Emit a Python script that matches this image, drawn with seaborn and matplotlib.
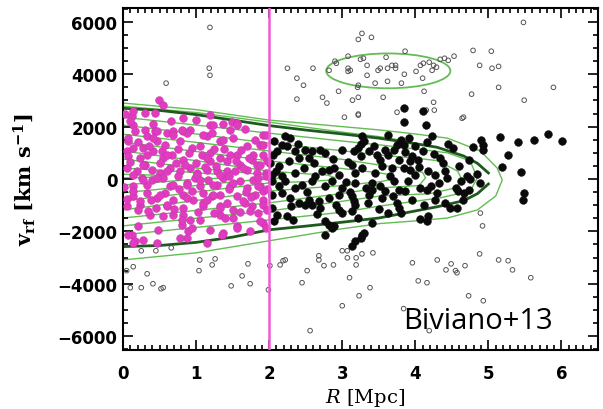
import matplotlib
matplotlib.use("Agg")
import matplotlib.pyplot as plt
from matplotlib.patches import Ellipse
from matplotlib.ticker import MultipleLocator
import seaborn as sns

# ---------------- data ----------------
# members inside R < 2 Mpc (magenta)
mag_R = [0.49,0.55,0.12,0.30,0.44,0.66,0.82,1.00,1.19,1.37,1.49,1.56,1.67,0.14,0.16,0.07,0.30,0.33,0.41,0.44,
         0.47,0.60,0.68,0.82,0.92,0.78,0.95,1.15,1.22,1.33,1.37,1.47,1.51,1.70,1.88,1.92,0.05,0.14,0.23,0.33,
         0.41,0.53,0.55,0.67,0.82,1.05,1.08,1.19,1.19,1.33,1.42,1.56,1.60,1.77,1.84,1.92,0.05,0.19,0.30,0.40,
         0.51,0.64,0.78,0.92,1.01,1.15,1.29,1.42,1.53,1.70,1.84,1.95,
         0.14,0.26,0.40,0.55,0.64,0.75,0.88,0.99,1.05,1.16,1.29,1.37,1.47,1.60,1.70,1.78,1.88,1.95,0.14,0.33,
         0.47,0.58,0.68,0.82,0.96,1.10,1.22,1.33,1.42,1.56,1.67,1.81,1.92,0.05,0.23,0.60,0.82,1.10,1.33,1.51,
         1.77,0.37,0.55,0.82,0.92,1.05,1.33,1.40,0.21,0.48,0.81,0.89,1.19,1.37,1.56,1.92,0.12,0.16,0.27,0.47,
         0.88,1.15,1.95,
         0.07,0.07,0.14,0.27,0.33,0.47,0.60,0.68,0.85,0.88,1.01,1.15,1.23,1.33,1.47,1.51,1.64,1.78,1.85,1.92,
         1.95,1.88,1.10,1.23,1.56,0.41,0.68,0.88,0.27,0.60,0.47,0.81,0.14,1.19,
         0.14,0.23,0.34,0.51,0.60,0.68,0.81,0.88,1.10,1.23,1.33,1.51,1.64,1.74,1.92,1.92,1.88,1.36,1.56,1.74,
         0.07,0.95,0.78,0.14,
         0.10,0.20,0.36,0.50,0.58,0.72,0.75,0.90,1.00,1.05,1.12,1.25,1.27,1.38,1.45,1.55,1.62,1.68,1.72,1.80,
         1.85,1.97,1.97,0.02,0.05,0.09,0.03,0.20,0.28,0.38,0.45,0.70,0.76,0.95,1.02,1.15,1.25,1.45,1.60,1.75,
         1.85,1.97]
mag_v = [3010,2820,2400,2510,2510,2210,2320,2250,2060,2100,2170,2130,1910,2060,1830,1450,1870,1640,2100,1830,
         1450,1750,1830,1830,1870,1450,1180,1640,1750,1450,1490,1870,1560,1260,1300,1680,1070,1180,800,910,
         1070,1070,800,910,720,1260,910,990,690,800,690,910,530,720,530,910,420,300,530,340,
         230,420,300,420,230,340,300,300,300,340,230,230,
         -270,40,-40,40,-270,110,-150,40,-270,-40,-230,40,-270,-80,-340,-40,-270,110,-650,-530,
         -720,-530,-800,-610,-800,-530,-650,-610,-910,-650,-910,-610,-800,-1030,-990,-1030,-1100,-1030,-1030,-1180,
         -1030,-1370,-1410,-1370,-1560,-1560,-1370,-1490,-1790,-1940,-1750,-1980,-1940,-2060,-1790,-1680,-2130,-2360,-2320,-2440,
         -2250,-2440,-1870,
         1560,870,150,530,-230,40,300,-230,530,-230,150,800,-230,150,910,-150,420,910,40,1300,
         1680,530,1680,2060,2060,1560,1680,1750,1180,910,1830,1870,2590,2440,
         -460,-840,-1220,-610,-990,-1370,-1560,-720,-910,-610,-1100,-1490,-840,-1220,-460,-990,-1600,-2130,-1870,-1980,
         -2130,-1870,-2250,-2440,
         650,1400,1250,600,1300,600,1150,1000,600,-50,450,1150,500,1150,100,700,1100,-500,800,1500,
         -250,-400,700,-300,-750,2200,2500,-1200,-50,-800,-1100,-1150,-400,-450,-1250,-800,-1300,-400,-1250,-700,
         -1300,-1200]

# members beyond R = 2 Mpc (black)
blk_R = [3.62,3.27,2.21,2.29,2.07,2.18,2.11,2.36,2.49,2.59,2.70,2.41,2.62,2.77,3.00,3.16,3.21,3.25,3.37,3.44,
         3.52,3.62,3.71,2.01,2.14,2.27,2.04,2.18,2.36,2.48,2.63,2.82,2.89,2.96,3.14,3.18,3.27,3.45,3.55,3.68,3.78,
         2.04,2.14,2.22,2.36,2.45,2.59,2.77,2.86,3.00,3.18,3.32,3.41,3.51,3.59,3.71,2.04,2.18,2.29,2.41,2.55,
         2.59,2.68,2.82,2.96,3.14,3.16,3.37,3.41,3.55,2.04,2.11,2.07,2.25,2.32,2.49,2.70,2.96,3.00,3.14,2.77,
         2.82,3.18,3.41,2.77,2.86,2.89,3.27,3.25,3.30,3.18,3.14,
         3.85,4.11,3.85,4.15,4.23,3.92,4.16,3.75,3.84,4.51,4.79,4.90,4.93,4.92,5.16,5.41,5.62,5.27,5.19,5.44,
         5.49,5.48,3.86,3.96,4.04,3.93,4.10,4.34,4.38,4.73,3.84,3.93,4.00,4.18,4.27,4.41,4.44,4.71,4.75,4.62,
         3.90,4.32,4.07,4.16,4.21,3.77,3.86,4.55,4.59,4.66,4.74,4.27,4.48,4.57,4.07,4.18,4.16,3.75,3.77,
         5.82,6.01,3.25,
         2.05,2.10,2.25,2.30,2.40,2.52,2.55,2.65,2.72,2.88,2.92,3.05,3.08,3.10,3.22,3.30,3.35,3.48,3.50,3.58,
         3.62,3.65,3.70,3.80,3.80,3.95,4.00,4.05,4.12,4.25,4.30,4.40,4.45,4.60,4.65,4.85,4.88]
blk_v = [1680,1640,1640,1560,1450,1300,1070,1070,1110,1070,1110,800,610,990,1110,1070,1180,880,1070,1260,
         720,910,1110,610,500,690,150,110,230,420,110,340,420,150,530,230,420,230,500,420,720,
         -80,-270,-80,-340,-230,-80,-270,-80,-340,-150,-340,-150,-270,-460,-80,-610,-530,-720,-910,-800,
         -990,-840,-720,-610,-650,-840,-610,-420,-720,-1100,-1370,-1600,-1410,-1560,-990,-1100,-1180,-1300,-1220,-1600,
         -1750,-990,-1680,-2130,-1870,-1790,-2130,-2250,-2060,-2360,-2550,
         2700,2590,2170,2060,1640,1560,1410,1300,1300,1180,1220,1490,1300,1110,1600,1410,1490,910,460,270,
         -530,-800,1030,880,720,690,1070,800,610,720,420,340,150,300,150,300,40,110,0,-80,
         -80,-150,-340,-420,-270,-420,-460,-340,-460,-530,-420,-800,-1100,-1100,-1520,-1410,-1600,-910,-1100,
         1710,1450,1340,
         900,300,1250,-1050,1350,-500,800,-1350,300,750,-1000,-100,650,-500,-1500,1450,-900,900,-1150,1100,
         -1300,100,-650,1500,-1300,-800,1250,450,-1000,950,-550,-900,1350,500,-800,200,-150]

# interlopers (open circles)
int_R = [1.19,1.18,1.19,0.59,2.25,2.38,2.38,
         5.48,3.27,3.22,3.40,3.86,4.79,5.04,4.53,3.08,3.25,3.29,3.60,4.34,4.40,4.45,2.92,2.90,2.60,2.82,3.08,3.11,
         3.08,3.34,3.49,3.52,3.62,3.68,3.73,3.73,3.85,4.01,4.07,4.11,4.19,4.25,4.29,4.23,4.88,5.05,5.14,3.34,4.10,
         3.45,3.62,3.81,3.22,3.21,2.47,2.95,4.12,5.14,5.89,4.77,5.49,2.73,2.79,3.14,3.22,3.56,4.25,3.22,3.75,4.26,
         3.03,4.66,3.22,4.64,4.15,
         4.89,4.92,0.25,0.45,0.66,0.05,0.14,0.33,0.10,0.25,0.41,0.52,0.55,1.05,1.04,1.26,1.22,1.71,1.63,1.48,
         1.74,1.99,2.01,2.15,2.19,2.22,2.52,2.45,2.56,2.68,2.68,2.75,2.88,3.00,3.07,3.07,3.19,3.27,3.19,3.42,
         3.10,3.38,3.23,3.00,3.96,4.04,4.16,4.30,4.42,4.49,4.55,4.57,4.68,4.88,5.14,5.27,5.33,5.58,4.73,4.93,
         4.19,3.84]
int_v = [5790,4230,3960,3660,4230,3850,3050,
         5980,5560,5330,5410,4880,4910,4880,4690,4690,4570,4610,4650,4570,4610,4530,4420,4500,4230,4150,4230,4150,
         4110,4340,4150,4230,4230,4340,4340,4230,4000,4110,4340,4420,4460,4340,4270,4150,4340,4230,4300,3960,3850,
         3660,3730,3660,3580,3500,3580,3350,3350,3500,3500,3240,3010,3120,2900,3010,3120,3120,2930,2480,2550,2630,
         2360,2360,2440,2320,2630,
         -1300,-1790,-2740,-2740,-2630,-3500,-3350,-3620,-4150,-4150,-4000,-4190,-4150,-3090,-3500,-3050,-3280,-3240,-3700,-4080,
         -4000,-4230,-3310,-3280,-3120,-3090,-3500,-3960,-5790,-2930,-3090,-3310,-3280,-2740,-2740,-3010,-3010,-2860,-3280,-2820,
         -3770,-4150,-4460,-4840,-3200,-3890,-3960,-3090,-3470,-3240,-3500,-3580,-3310,-2860,-3090,-3120,-3470,-3770,-4460,-4650,
         -5790,-4950]

# density contours (light green), closed paths from R=0 (upper) round the tip back to R=0 (lower)
c1_R = [0, 1, 2, 3, 3.52, 4.0, 4.44, 4.89, 5.12, 5.19, 5.10, 4.85, 4.44, 4.0, 3.52, 3, 2, 1, 0]
c1_v = [2900, 2650, 2250, 2000, 1870, 1720, 1560, 1070, 420, -40, -650, -1180, -1490, -1600, -1700, -1900, -2360, -2820, -3090]
c1b_R = [0, 1, 2, 3, 3.5, 3.9]
c1b_v = [2780, 2540, 2170, 1790, 1620, 1440]
c2_R = [0, 1, 2, 3, 3.52, 4.0, 4.44, 4.75, 4.85, 4.75, 4.34, 4.0, 3.52, 3, 2, 1, 0]
c2_v = [2360, 2060, 1750, 1450, 1300, 1150, 1000, 690, 40, -460, -720, -850, -1030, -1270, -1560, -1850, -2130]
c3_R = [0, 1, 2, 3, 3.52, 4.0, 4.3, 4.58, 4.64, 4.55, 4.2, 3.52, 3, 2, 1, 0]
c3_v = [2060, 1720, 1370, 1080, 910, 800, 700, 300, -40, -340, -560, -650, -850, -1220, -1500, -1790]
c4_R = [0, 1, 2, 3, 3.52, 3.9, 4.1, 4.14, 4.05, 3.52, 3, 2, 1, 0]
c4_v = [1710, 1400, 1070, 750, 530, 400, 250, 40, -250, -340, -550, -910, -1200, -1490]
c5_R = [0, 1, 2, 3, 3.52, 3.68, 3.70, 3.6, 3.52, 3, 2, 1, 0]
c5_v = [1410, 1050, 690, 400, 230, 150, 40, -60, -100, -250, -460, -820, -1180]
c6_R = [0, 1, 2, 2.5, 2.8, 2.9, 2.8, 2.5, 2, 1, 0]
c6_v = [1070, 700, 300, 200, 150, 50, -50, -100, -150, -500, -840]
c7_R = [0, 1, 1.8, 2.1, 2.2, 2.1, 1.8, 1, 0]
c7_v = [760, 420, 200, 150, 80, 20, -30, -250, -530]
c8_R = [0, 0.8, 1.3, 1.5, 1.3, 0.8, 0]
c8_v = [420, 280, 180, 100, 30, -50, -230]
c9_R = [0, 0.4, 0.6, 0.4, 0]
c9_v = [180, 150, 100, 70, 40]

# caustics (dark green)
cau_R = [0, 0.5, 1, 1.5, 2, 2.5, 3, 3.5, 4, 4.3, 4.66, 4.85, 5.0]
cau_up = [2700, 2620, 2460, 2250, 2040, 1870, 1720, 1560, 1350, 1210, 880, 600, 230]
cau_lo = [-2580, -2540, -2420, -2220, -1940, -1800, -1650, -1490, -1220, -1060, -830, -560, -190]

# background group ellipse: centre R, centre v, width, height
grp_ellipse = [3.63, 4130, 1.70, 1330]

r_split = 2.0
x_ticks = [0, 1, 2, 3, 4, 5, 6]
y_ticks = [-6000, -4000, -2000, 0, 2000, 4000, 6000]

# ---------------- figure ----------------
plt.rcParams['mathtext.fontset'] = 'dejavuserif'
fig = plt.figure(figsize=(6.03, 4.10), dpi=100)
ax = fig.add_axes([123/603, 1-351/410, (598-123)/603, (351-9)/410])

LIGHT = '#62bd52'
DARK = '#1e5a1e'
MAG = '#e03cbf'

contours = [(c1_R, c1_v), (c1b_R, c1b_v), (c2_R, c2_v), (c3_R, c3_v), (c4_R, c4_v), (c5_R, c5_v),
            (c6_R, c6_v), (c7_R, c7_v), (c8_R, c8_v), (c9_R, c9_v)]
for cr, cv in contours:
    sns.lineplot(x=cr, y=cv, sort=False, estimator=None, color=LIGHT, lw=1.0, ax=ax, zorder=1)
sns.lineplot(x=cau_R, y=cau_up, sort=False, estimator=None, color=DARK, lw=2.0, ax=ax, zorder=1.5)
sns.lineplot(x=cau_R, y=cau_lo, sort=False, estimator=None, color=DARK, lw=2.0, ax=ax, zorder=1.5)

ax.add_patch(Ellipse((grp_ellipse[0], grp_ellipse[1]), grp_ellipse[2], grp_ellipse[3],
                     fill=False, edgecolor=LIGHT, lw=1.3, zorder=1))

sns.scatterplot(x=int_R, y=int_v, marker='o', s=11, facecolor='none', edgecolor='#555555',
                linewidth=0.7, ax=ax, zorder=2, legend=False)
sns.scatterplot(x=blk_R, y=blk_v, marker='o', s=32, color='#0a0a0a', edgecolor='#0a0a0a',
                linewidth=0.3, ax=ax, zorder=3, legend=False)
sns.scatterplot(x=mag_R, y=mag_v, marker='o', s=32, color=MAG, edgecolor='#c52fa6',
                linewidth=0.3, ax=ax, zorder=3, legend=False)

ax.axvline(r_split, color='#ee5ad4', lw=1.8, zorder=4)

ax.set_xlim(0, 6.5)
ax.set_ylim(-6530, 6530)
ax.set_xticks(x_ticks)
ax.set_yticks(y_ticks)
ax.xaxis.set_minor_locator(MultipleLocator(0.1))
ax.yaxis.set_minor_locator(MultipleLocator(500))
ax.tick_params(which='both', direction='in', top=True, right=True, width=1.2, color='black')
ax.tick_params(which='major', length=7)
ax.tick_params(which='minor', length=3.5)
ax.tick_params(axis='x', which='major', pad=10)
ax.tick_params(axis='y', which='major', pad=4)
for lab in ax.get_xticklabels() + ax.get_yticklabels():
    lab.set_fontfamily('DejaVu Sans')
    lab.set_fontweight('bold')
    lab.set_fontsize(12)
for sp in ax.spines.values():
    sp.set_linewidth(1.5)
    sp.set_color('black')

ax.set_xlabel(r'$\mathit{R}$ [Mpc]', fontfamily='DejaVu Serif', fontsize=14)
ax.xaxis.set_label_coords(0.51, -0.105)
ax.set_ylabel(r'$\mathbf{v}_{\mathbf{rf}}$ [km s$^{\mathbf{-1}}$]', fontfamily='DejaVu Serif',
              fontweight='bold', fontsize=15)
ax.yaxis.set_label_coords(-0.179, 0.5)

fig.text(403/603, 1-329/410, 'Biviano+13', fontfamily='Open Sans', fontsize=21,
         ha='left', va='baseline', color='black')

fig.savefig('out.png', dpi=100)
